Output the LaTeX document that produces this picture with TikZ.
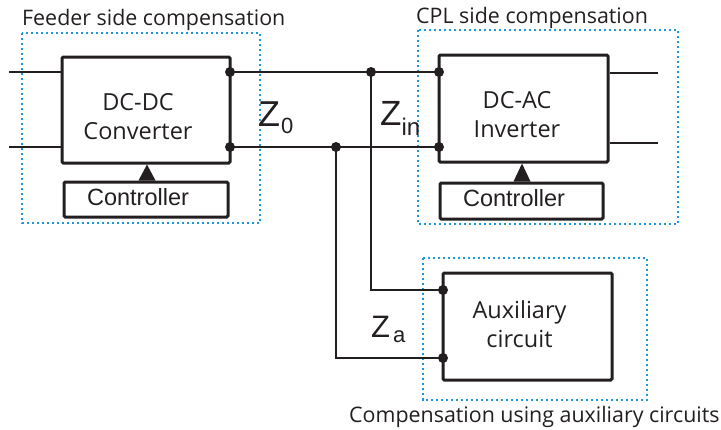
\documentclass[tikz,border=0pt]{standalone}
\usepackage{fontspec}
\usetikzlibrary{calc}
\setmainfont{Open Sans}
\newfontfamily\arialf{Liberation Sans}
\definecolor{zoneblue}{RGB}{30,150,220}
\definecolor{ink}{RGB}{35,31,32}
\begin{document}
\begin{tikzpicture}[x=1pt,y=-1pt,
  blk/.style={draw=ink, line width=3pt, rounded corners=1.2pt, inner sep=0pt},
  wire/.style={draw=ink, line width=2pt},
  zone/.style={draw=zoneblue, line width=2.1pt, dash pattern=on 2.2pt off 2.8pt},
  boxtxt/.style={text=ink, font=\fontsize{23.5}{29}\selectfont, align=center},
  ctrltxt/.style={text=ink, font=\arialf\fontsize{23.5}{24}\selectfont},
  captxt/.style={text=ink, font=\fontsize{21.4}{22}\selectfont, inner sep=0pt},
  jdot/.style={circle, fill=ink, inner sep=0pt, minimum size=10pt},
  tri/.style={fill=ink}
]
\useasboundingbox (0,0) rectangle (721,429);

% zones
\draw[zone] (22,33) rectangle (260,223);
\draw[zone] (418,30) rectangle (678,224);
\draw[zone] (423,258) rectangle (647,400);

% blocks
\node[blk, minimum width=168pt, minimum height=106pt] (dcdc) at (146,110) {};
\node[blk, minimum width=164pt, minimum height=35pt] (ctrlA) at (146,199.5) {};
\node[blk, minimum width=169pt, minimum height=107pt] (dcac) at (523.5,108.5) {};
\node[blk, minimum width=163pt, minimum height=36pt] (ctrlB) at (521.5,201) {};
\node[blk, minimum width=169pt, minimum height=107pt] (aux) at (527.5,326.5) {};

% block texts
\node[boxtxt] at (138,117) {DC-DC\\Converter};
\node[boxtxt] at (517,115) {DC-AC\\Inverter};
\node[boxtxt] at (519.5,324) {Auxiliary\\circuit};
\node[ctrltxt] at (138,197) {Controller};
\node[ctrltxt] at (514,198) {Controller};

% coordinates
\coordinate (inT) at (9,72);
\coordinate (inB) at (9,147);
\coordinate (dT) at (230,72);
\coordinate (dB) at (230,147);
\coordinate (jT) at (371,72);
\coordinate (jB) at (336,147);
\coordinate (iT) at (439,72);
\coordinate (iB) at (439,147);
\coordinate (aT) at (443,290);
\coordinate (aB) at (443,358);
\coordinate (oT) at (658,73);
\coordinate (oB) at (658,143);

% wires
\draw[wire] (inT) -- (inT -| dcdc.west);
\draw[wire] (inB) -- (inB -| dcdc.west);
\draw[wire] (dT) -- (iT);
\draw[wire] (dB) -- (iB);
\draw[wire] (jT) -- (jT |- aT) -- (aT);
\draw[wire] (jB) -- (jB |- aB) -- (aB);
\draw[wire] (oT -| dcac.east) -- (oT);
\draw[wire] (oB -| dcac.east) -- (oB);

% junction dots
\foreach \p in {dT,dB,jT,jB,iT,iB,aT,aB} \node[jdot] at (\p) {};

% controller arrows
\fill[tri] ($(ctrlA.north)+(-7.5,0)$) -- ($(dcdc.south)+(1,0)$) -- ($(ctrlA.north)+(9.5,0)$) -- cycle;
\fill[tri] ($(ctrlB.north)+(-8,0)$) -- ($(dcac.south)+(-1.5,0)$) -- ($(ctrlB.north)+(9,0)$) -- cycle;

% impedance labels
\node[anchor=base west, inner sep=0pt, text=ink] (z0) at (258,126)
  {\arialf\fontsize{36}{36}\selectfont Z\kern1pt\raisebox{-7pt}{\fontsize{22}{22}\selectfont 0}};
\node[anchor=base west, inner sep=0pt, text=ink] (zin) at (380,125)
  {\arialf\fontsize{35}{35}\selectfont Z\raisebox{-10pt}{\fontsize{24}{24}\selectfont in}};
\node[anchor=base west, inner sep=0pt, text=ink] (za) at (371,337)
  {\arialf\fontsize{31}{31}\selectfont Z\kern3pt\raisebox{-5pt}{\fontsize{22}{22}\selectfont a}};

% captions
\node[captxt, anchor=west] (capA) at (22,20) {Feeder side compensation};
\node[captxt, anchor=west] (capB) at (416,18) {CPL side compensation};
\node[captxt, anchor=west] (capC) at (349,417) {Compensation using auxiliary circuits};
\end{tikzpicture}
\end{document}
